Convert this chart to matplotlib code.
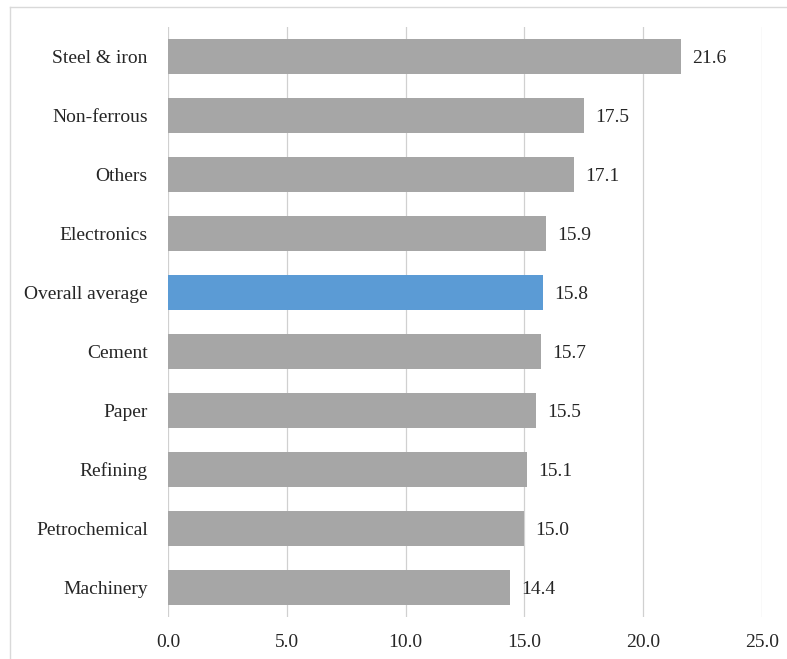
import matplotlib
matplotlib.use("Agg")
import matplotlib.pyplot as plt
from matplotlib.lines import Line2D

plt.rcParams['font.family'] = ['Liberation Serif', 'DejaVu Serif']

# sectors from top to bottom, as in the picture
sectors = ['Steel & iron', 'Non-ferrous', 'Others', 'Electronics', 'Overall average',
           'Cement', 'Paper', 'Refining', 'Petrochemical', 'Machinery']
values = [21.6, 17.5, 17.1, 15.9, 15.8, 15.7, 15.5, 15.1, 15.0, 14.4]
x_ticks = [0, 5, 10, 15, 20, 25]

GREY = '#A6A6A6'
BLUE = '#5B9BD5'
colors = [BLUE if s == 'Overall average' else GREY for s in sectors]

W, H = 787, 659
fig = plt.figure(figsize=(W / 100, H / 100), dpi=100)
ax = fig.add_axes([168 / W, 1 - 617 / H, (762 - 168) / W, (617 - 27) / H])

pos = list(range(len(sectors)))
ax.barh(pos, values, height=0.58, color=colors, zorder=2)
for p, v in zip(pos, values):
    ax.annotate('%.1f' % v, (v, p), xytext=(8, 0), textcoords='offset points',
                va='center_baseline', ha='left', fontsize=14, color='#262626')

ax.set_ylim(len(sectors) - 0.5, -0.5)
ax.set_yticks(pos)
ax.set_yticklabels(sectors, fontsize=14, color='#262626')
ax.set_xlim(0, 25)
ax.set_xticks(x_ticks)
ax.set_xticklabels(['%.1f' % t for t in x_ticks], fontsize=14, color='#262626')
ax.tick_params(length=0)
ax.tick_params(axis='y', pad=14.5)
ax.tick_params(axis='x', pad=12)
ax.grid(axis='x', color='#D0D0D0', linewidth=0.9, zorder=0)
for s in ax.spines.values():
    s.set_visible(False)

# light frame around the chart (only top and left are visible)
fig.add_artist(Line2D([10 / W, 10 / W], [0, 1 - 7 / H], transform=fig.transFigure,
                      color='#D9D9D9', lw=1))
fig.add_artist(Line2D([10 / W, 1], [1 - 7 / H, 1 - 7 / H], transform=fig.transFigure,
                      color='#D9D9D9', lw=1))

fig.savefig('out.png', dpi=100)
